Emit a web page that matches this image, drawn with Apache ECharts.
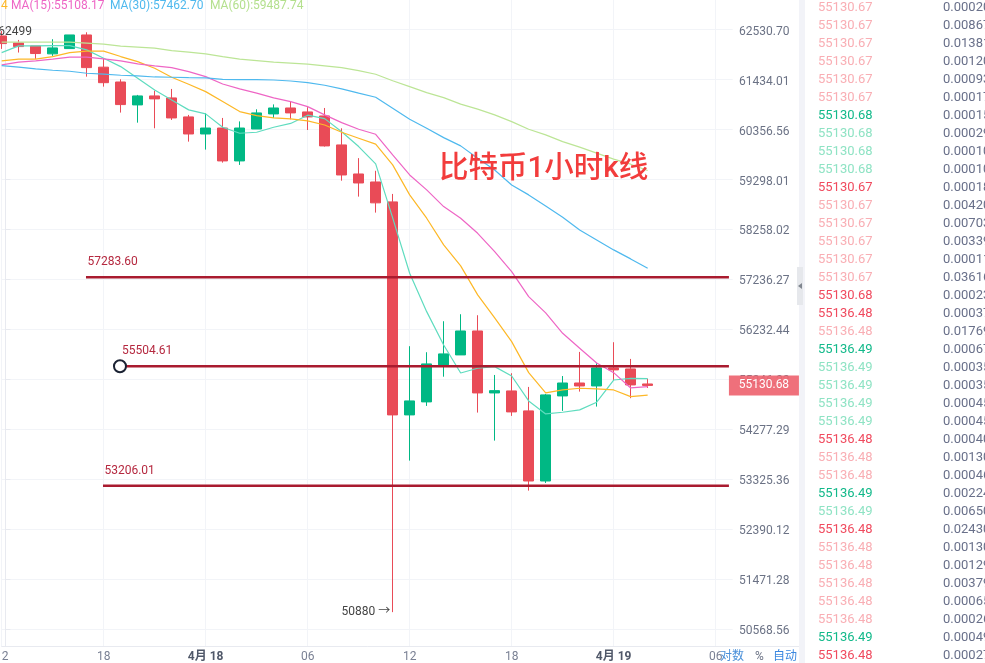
<!DOCTYPE html>
<html lang="zh">

<head>
    <meta charset="UTF-8">
    <title>比特币1小时k线</title>
    <script src="https://cdn.jsdelivr.net/npm/echarts@6/dist/echarts.min.js"></script>
    <style>
        html, body { margin: 0; padding: 0; background: #fff; }
        #main { width: 985px; height: 663px; }
    </style>
</head>

<body>
    <div id="main"></div>
    <script>
        var categories = ['12', '13', '14', '15', '16', '17', '18', '19', '20', '21', '22', '23',
            '4月 18', '01', '02', '03', '04', '05', '06', '07', '08', '09', '10', '11',
            '12', '13', '14', '15', '16', '17', '18', '19', '20', '21', '22', '23',
            '4月 19', '01', '02', '03', '04', '05', '06', '07'];

        var opens = [62388, 62235, 62169, 61994, 62110, 62410, 61703, 61380, 60884, 61078, 61035, 60626, 60261,
            60388, 59689, 60367, 60690, 60818, 60733, 60647, 60028, 59414, 59246, 58830, 54558, 54810, 55532,
            55729, 56203, 54984, 55023, 54636, 53297, 54926, 55178, 55120, 55473, 55453, 55159];
        var closes = [62220, 62154, 62001, 62125, 62410, 61693, 61365, 60891, 61078, 61014, 60604, 60261, 60388,
            59689, 60388, 60712, 60818, 60712, 60626, 60007, 59393, 59225, 58810, 54558, 54829, 55552, 55749,
            56203, 54984, 55029, 54616, 53297, 54946, 55178, 55120, 55473, 55434, 55140, 55130.68];
        var lows = [62103, 62023, 61884, 61950, 62110, 61496, 61279, 60719, 60503, 60382, 60561, 60098, 59929,
            59653, 59605, 60367, 60604, 60574, 60346, 59993, 59273, 58940, 58607, 50880, 53683, 54732, 55301,
            55729, 54603, 54064, 54539, 53116, 53260, 54636, 55010, 54719, 55236, 54882, 55081];
        var highs = [62499, 62300, 62169, 62316, 62410, 62469, 61900, 61438, 61100, 61193, 61229, 60669, 60706,
            60604, 60530, 60790, 60895, 60955, 60835, 60818, 60382, 59748, 59481, 58996, 55901, 55782, 56397,
            56537, 56517, 55335, 55369, 55101, 54965, 55314, 55788, 55565, 55980, 55650, 55262];

        var maTeal = [62022, 62169, 62169, 62176, 62176, 62081, 61899, 61715, 61461, 61208, 60992, 60777, 60691,
            60404, 60277, 60298, 60404, 60486, 60663, 60589, 60310, 59993, 59627, 58497, 57363, 56589, 55926,
            55374, 55467, 55498, 55315, 54829, 54577, 54610, 54655, 54804, 55236, 55270, 55262];
        var maYellow = [61840, 61878, 61878, 61935, 62022, 62053, 62053, 61935, 61825, 61680, 61483, 61331, 61171,
            60956, 60740, 60654, 60604, 60583, 60540, 60453, 60298, 60171, 60044, 59605, 58976, 58491, 57941,
            57512, 56925, 56463, 55991, 55380, 54984, 55042, 55075, 55062, 55042, 54913, 54940];
        var ma15 = [61753, 61812, 61840, 61878, 61921, 61921, 61884, 61840, 61774, 61731, 61693, 61606, 61496,
            61337, 61229, 61137, 61035, 60956, 60848, 60669, 60503, 60361, 60255, 59817, 59394, 59080, 58732,
            58491, 58180, 57804, 57396, 56891, 56563, 56157, 55861, 55571, 55380, 55081, 55108.17];
        var ma30 = [61737, 61702, 61665, 61636, 61614, 61570, 61549, 61527, 61511, 61489, 61483, 61474, 61468,
            61438, 61430, 61430, 61423, 61402, 61365, 61309, 61229, 61137, 61050, 60813, 60576, 60382, 60183,
            60008, 59747, 59499, 59184, 58976, 58747, 58512, 58248, 58043, 57839, 57655, 57462.70];
        var ma60 = [62250, 62250, 62250, 62250, 62250, 62228, 62206, 62163, 62141, 62119, 62066, 62031, 61994,
            61935, 61878, 61847, 61812, 61790, 61768, 61731, 61693, 61627, 61548, 61408, 61279, 61150, 61042,
            60900, 60792, 60669, 60525, 60361, 60241, 60099, 59980, 59853, 59726, 59620, 59487.74];

        var yTicks = [62530.70, 61434.01, 60356.56, 59298.01, 58258.02, 57236.27, 56232.44, 55246.22, 54277.29,
            53325.36, 52390.12, 51471.28, 50568.56];

        // horizontal levels drawn on the chart, start is in candle units
        var levelPrices = [57283.60, 55504.61, 53206.01];
        var levelStarts = [4.96, 6.96, 5.96];
        var levelEnd = 42.78;
        var lastPrice = 55130.68;

        var tradePrices = ['55130.67', '55130.67', '55130.67', '55130.67', '55130.67', '55130.67', '55130.68',
            '55130.68', '55130.68', '55130.68', '55130.67', '55130.67', '55130.67', '55130.67', '55130.67',
            '55130.67', '55130.68', '55136.48', '55136.48', '55136.49', '55136.49', '55136.49', '55136.49',
            '55136.49', '55136.48', '55136.48', '55136.48', '55136.49', '55136.49', '55136.48', '55136.48',
            '55136.48', '55136.48', '55136.48', '55136.48', '55136.49', '55136.48'];
        var tradeAmounts = ['0.00020', '0.00867', '0.01381', '0.00120', '0.00093', '0.00017', '0.00015', '0.00029',
            '0.00010', '0.00010', '0.00018', '0.00420', '0.00703', '0.00339', '0.00011', '0.03616', '0.00023',
            '0.00037', '0.01769', '0.00067', '0.00035', '0.00035', '0.00045', '0.00045', '0.00040', '0.00130',
            '0.00046', '0.00224', '0.00650', '0.02430', '0.00130', '0.00129', '0.00379', '0.00065', '0.00026',
            '0.00049', '0.00027'];
        // r = pale red, R = red, g = pale green, G = green
        var tradeKinds = ['r', 'r', 'r', 'r', 'r', 'r', 'G', 'g', 'g', 'g', 'R', 'r', 'r', 'r', 'r', 'r', 'R',
            'R', 'r', 'G', 'g', 'g', 'g', 'g', 'R', 'r', 'r', 'G', 'g', 'R', 'r', 'r', 'r', 'r', 'r', 'G', 'R'];

        var kindColors = { r: '#f9aeb4', R: '#f04a5e', g: '#8fe3c4', G: '#12b98a' };
        var fontName = 'Roboto, "Noto Sans CJK SC", sans-serif';

        var candles = [];
        for (var i = 0; i < opens.length; i++) {
            candles.push([opens[i], closes[i], lows[i], highs[i]]);
        }

        function maSeries(name, values, color) {
            return {
                name: name,
                type: 'line',
                data: values,
                symbol: 'none',
                z: 4,
                lineStyle: { color: color, width: 1.2 }
            };
        }

        function levelSeries(idx) {
            var first = {
                value: [levelStarts[idx], levelPrices[idx]],
                symbol: 'circle',
                symbolSize: idx === 1 ? 12 : 1,
                itemStyle: idx === 1 ? { color: '#fff', borderColor: '#1b2233', borderWidth: 2 } : { color: 'rgba(0,0,0,0)' },
                label: {
                    show: true,
                    position: 'right',
                    distance: 0,
                    offset: idx === 1 ? [-5, -15] : [1, -15],
                    color: '#b5283f',
                    fontFamily: fontName,
                    fontSize: 12,
                    formatter: levelPrices[idx].toFixed(2)
                }
            };
            return {
                type: 'line',
                xAxisIndex: 1,
                data: [first, { value: [levelEnd, levelPrices[idx]], symbol: 'none' }],
                z: 6,
                lineStyle: { color: '#a91b2f', width: 2.5 }
            };
        }

        var graphics = [
            { type: 'rect', z: 1, shape: { x: 799, y: 0, width: 6, height: 663 }, style: { fill: '#f2f3f8' } },
            { type: 'rect', z: 2, shape: { x: 797, y: 267, width: 6, height: 38 }, style: { fill: '#e6e8ec' } },
            { type: 'polygon', z: 3, shape: { points: [[798, 286], [802, 283], [802, 289]] }, style: { fill: '#80868f' } },
            { type: 'line', z: 1, shape: { x1: 729, y1: 646.5, x2: 799, y2: 646.5 }, style: { stroke: '#e8eaf0', lineWidth: 1 } },
            { type: 'text', z: 5, x: 1, y: 6, style: { text: '4', fill: '#fdb827', font: '12px ' + fontName, textVerticalAlign: 'middle' } },
            { type: 'text', z: 5, x: 11, y: 6, style: { text: 'MA(15):55108.17', fill: '#ee66c5', font: '12px ' + fontName, textVerticalAlign: 'middle' } },
            { type: 'text', z: 5, x: 110, y: 6, style: { text: 'MA(30):57462.70', fill: '#4fb9ee', font: '12px ' + fontName, textVerticalAlign: 'middle' } },
            { type: 'text', z: 5, x: 210, y: 6, style: { text: 'MA(60):59487.74', fill: '#b4e08e', font: '12px ' + fontName, textVerticalAlign: 'middle' } },
            { type: 'text', z: 5, x: 720, y: 657, style: { text: '对数', fill: '#4a90d9', font: '12px ' + fontName, textVerticalAlign: 'middle' } },
            { type: 'text', z: 5, x: 755, y: 657, style: { text: '%', fill: '#6b7285', font: '12px ' + fontName, textVerticalAlign: 'middle' } },
            { type: 'text', z: 5, x: 773, y: 657, style: { text: '自动', fill: '#3b88e0', font: '12px ' + fontName, textVerticalAlign: 'middle' } }
        ];
        for (var r = 0; r < tradePrices.length; r++) {
            var rowY = 8 + r * 18;
            graphics.push({ type: 'text', z: 5, x: 818, y: rowY, style: { text: tradePrices[r], fill: kindColors[tradeKinds[r]], font: '13px ' + fontName, textVerticalAlign: 'middle' } });
            graphics.push({ type: 'text', z: 5, x: 943, y: rowY, style: { text: tradeAmounts[r], fill: '#69708a', font: '13px ' + fontName, textVerticalAlign: 'middle' } });
        }

        var myChart = echarts.init(document.getElementById('main'));

        myChart.setOption({
            animation: false,
            backgroundColor: '#fff',
            title: {
                text: '比特币1小时k线',
                left: 434,
                top: 150,
                textStyle: { color: '#f23c3c', fontSize: 29.5, fontWeight: 500, fontFamily: fontName }
            },
            grid: { left: 1.67, top: 0, width: 731, height: 646, outerBoundsMode: 'none' },
            xAxis: [
                {
                    type: 'category',
                    data: categories,
                    boundaryGap: false,
                    axisLine: { lineStyle: { color: '#e8eaf0' } },
                    axisTick: { show: false },
                    axisLabel: {
                        interval: 5,
                        margin: 5,
                        color: '#7a8194',
                        fontSize: 12,
                        fontFamily: fontName,
                        formatter: function (v) {
                            return v.indexOf('月') > 0 ? '{b|' + v + '}' : v;
                        },
                        rich: { b: { fontWeight: 'bold', color: '#505869', fontSize: 12, fontFamily: fontName } }
                    },
                    splitLine: { show: true, interval: 5, lineStyle: { color: '#f2f4f8' } }
                },
                { type: 'value', min: 0, max: 43, show: false, splitLine: { show: false } }
            ],
            yAxis: {
                type: 'log',
                min: 50274,
                max: 63187,
                position: 'right',
                offset: -3.67,
                axisLine: { show: true, lineStyle: { color: '#e8eaf0' } },
                axisTick: { show: true, length: 5, customValues: yTicks, lineStyle: { color: '#e8eaf0' } },
                axisLabel: {
                    customValues: yTicks,
                    margin: 10,
                    formatter: function (v) { return '{v|' + Number(v).toFixed(2) + '}'; },
                    rich: { v: { padding: [4, 0, 0, 0], color: '#6b7285', fontSize: 12, fontFamily: fontName } }
                },
                splitLine: { show: true, lineStyle: { color: '#f2f4f8' } }
            },
            graphic: graphics,
            series: [
                {
                    type: 'candlestick',
                    data: candles,
                    barWidth: 11,
                    clip: false,
                    z: 3,
                    itemStyle: { color: '#00b884', color0: '#e94b57', borderColor: '#00b884', borderColor0: '#e94b57', borderWidth: 1 },
                    markPoint: {
                        symbol: 'circle',
                        symbolSize: 1,
                        itemStyle: { color: 'rgba(0,0,0,0)' },
                        data: [
                            { coord: [23, 50880], label: { show: true, position: 'left', distance: 2, color: '#444', fontFamily: fontName, fontSize: 12, formatter: '50880 →' } },
                            { coord: [0, 62499], label: { show: true, position: 'right', distance: 0, offset: [-4, 1], color: '#444', fontFamily: fontName, fontSize: 12, formatter: '62499' } }
                        ]
                    }
                },
                maSeries('MA5', maTeal, '#5fdcbf'),
                maSeries('MA10', maYellow, '#fdb827'),
                maSeries('MA15', ma15, '#ee66c5'),
                maSeries('MA30', ma30, '#4fb9ee'),
                maSeries('MA60', ma60, '#bce596'),
                levelSeries(0),
                levelSeries(1),
                levelSeries(2),
                {
                    type: 'line',
                    xAxisIndex: 1,
                    clip: false,
                    z: 10,
                    symbol: 'rect',
                    symbolSize: [70, 20],
                    symbolOffset: [35, 0],
                    itemStyle: { color: 'rgba(238, 100, 112, 0.92)' },
                    label: {
                        show: true,
                        position: 'inside',
                        color: '#fff',
                        fontFamily: fontName,
                        fontSize: 12,
                        formatter: lastPrice.toFixed(2)
                    },
                    data: [[levelEnd, lastPrice]]
                }
            ]
        });
    </script>
</body>

</html>
